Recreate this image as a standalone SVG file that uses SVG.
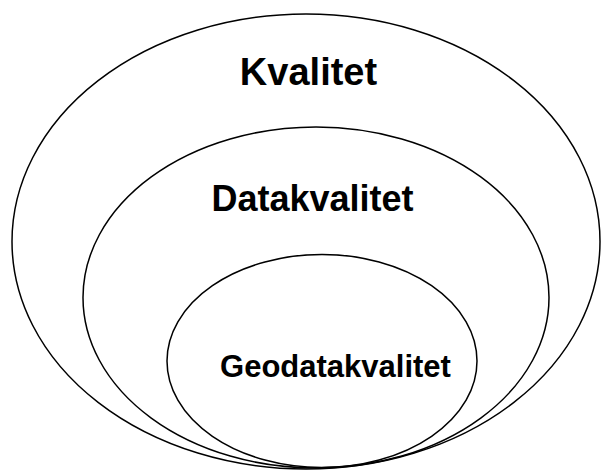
<svg xmlns="http://www.w3.org/2000/svg" width="601" height="472" viewBox="0 0 601 472">
<style>
.e{fill:none;stroke:#000;stroke-width:1.5}
.t{font-family:"Liberation Sans",Arial,sans-serif;font-weight:bold;fill:#000;text-anchor:middle}
</style>
<rect width="601" height="472" fill="#fff"/>
<g id="kvalitet">
<ellipse class="e" cx="306" cy="241.5" rx="294" ry="227.5"/>
<text class="t" x="308.5" y="85" font-size="38">Kvalitet</text>
</g>
<g id="datakvalitet">
<ellipse class="e" cx="316" cy="297.5" rx="233" ry="170.5"/>
<text class="t" x="312.5" y="211" font-size="36">Datakvalitet</text>
</g>
<g id="geodatakvalitet">
<ellipse class="e" cx="322" cy="361" rx="155" ry="106.5"/>
<text class="t" x="335.5" y="377" font-size="31">Geodatakvalitet</text>
</g>
<g id="connectors"></g>
</svg>
